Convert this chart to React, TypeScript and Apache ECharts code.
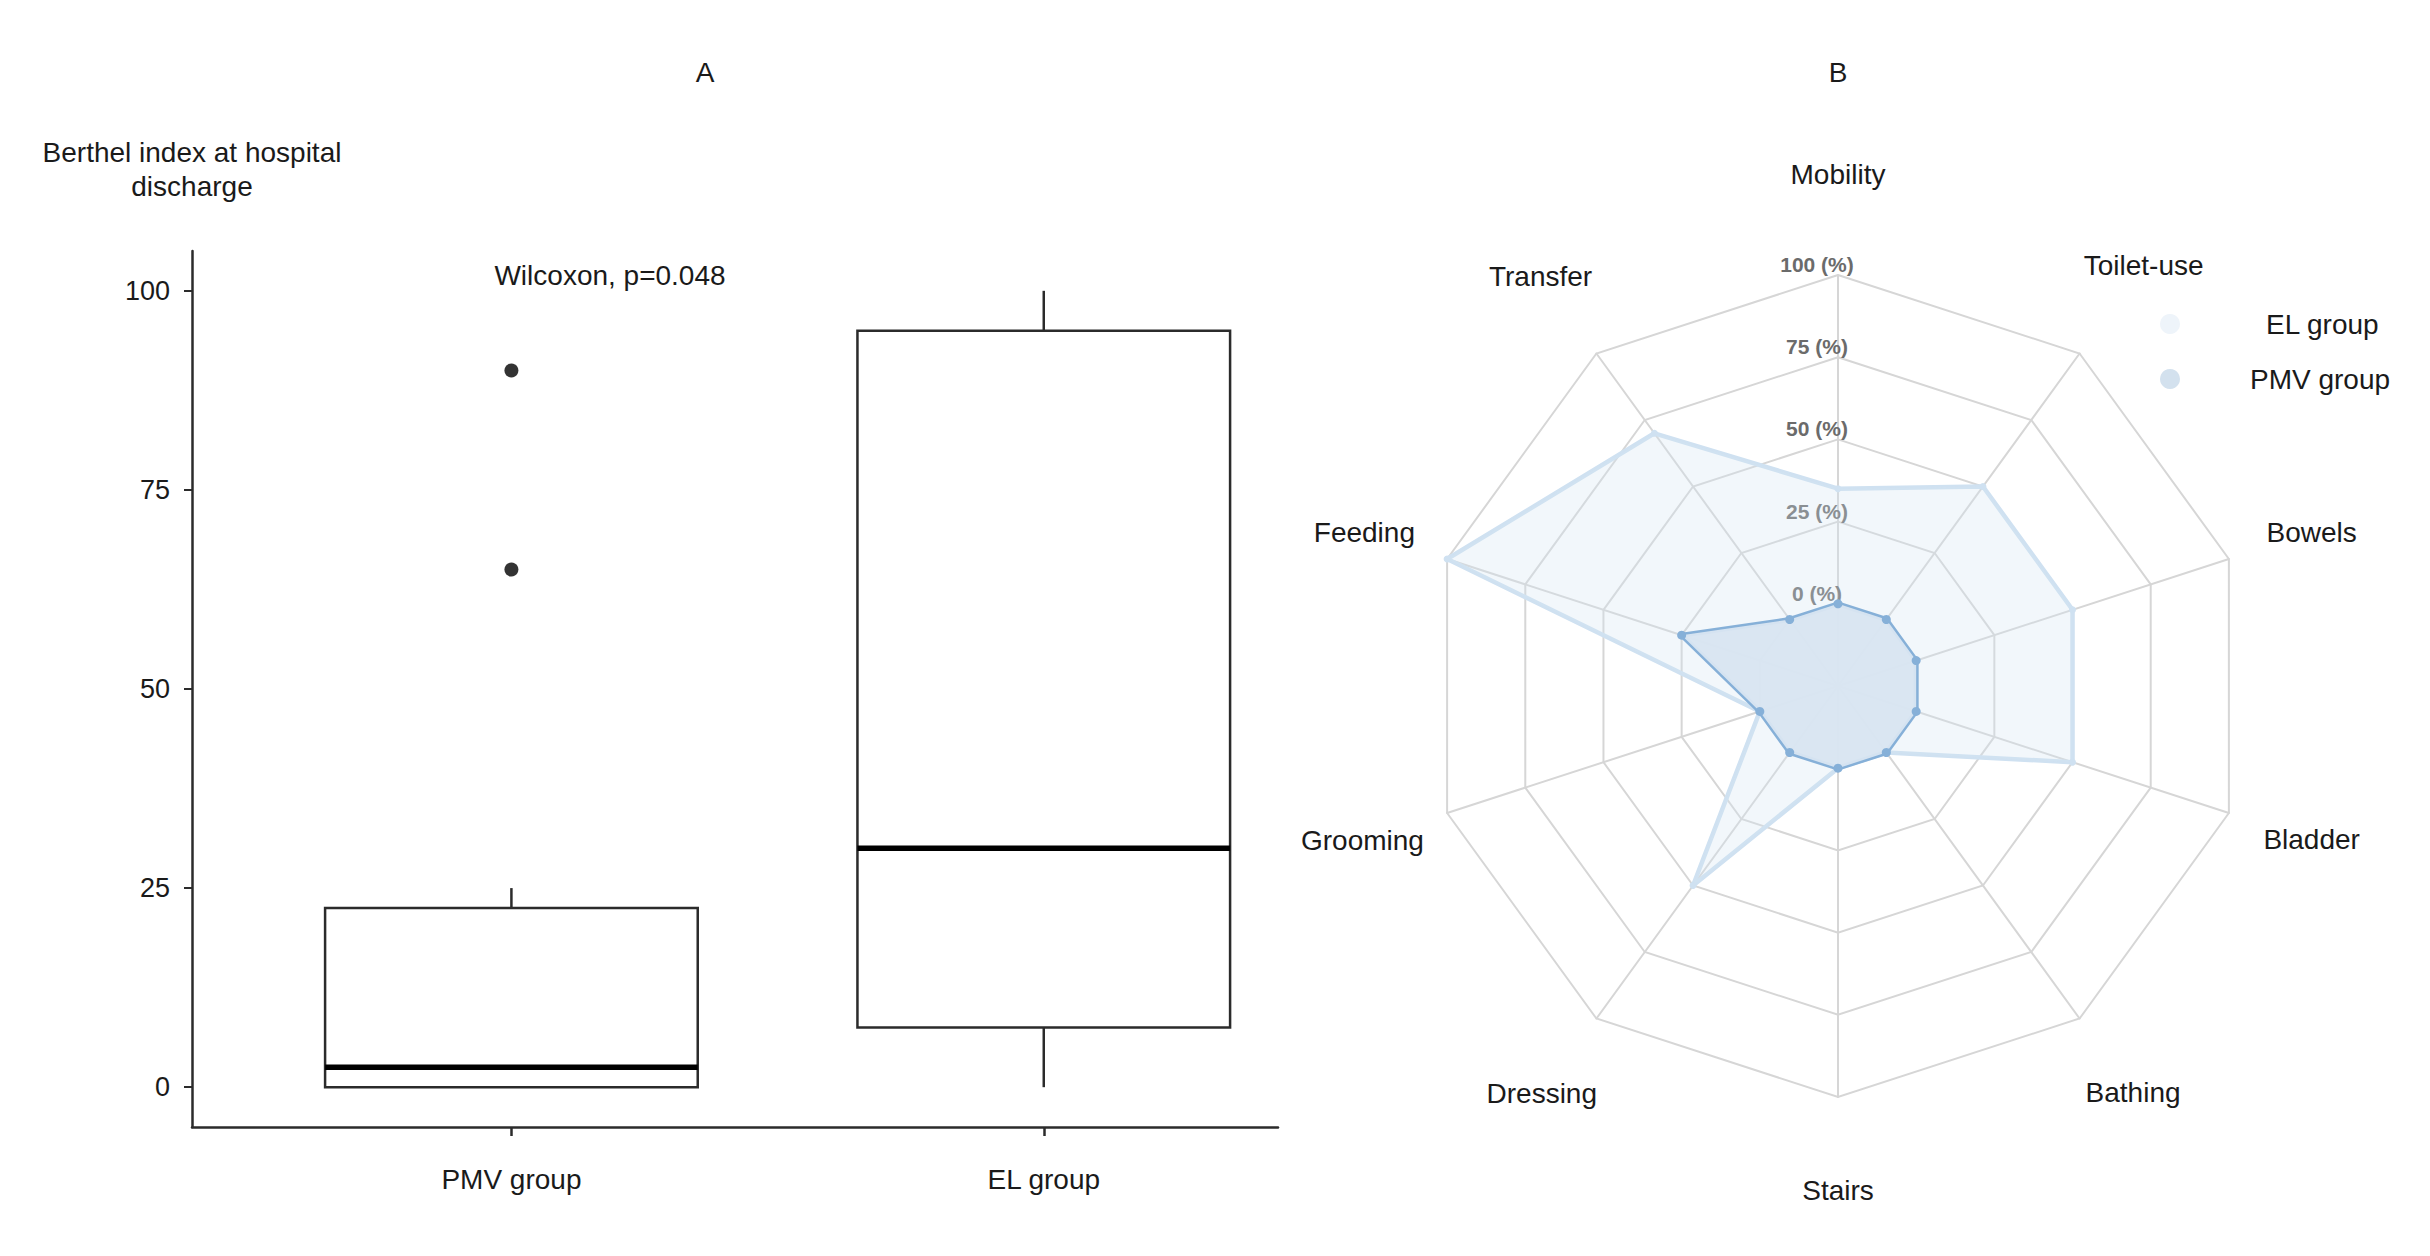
import React, { useEffect, useRef } from 'react';
import * as echarts from 'echarts';

// ---- Panel A: box plot data ----
const groups = ['PMV group', 'EL group'];
const groupPos = [1, 2];
const whiskerLow = [0, 0];
const quartile1 = [0, 7.5];
const medians = [2.5, 30];
const quartile3 = [22.5, 95];
const whiskerHigh = [25, 100];
const outlierGroup = [1, 1];
const outlierValues = [65, 90];
const yTicks = [0, 25, 50, 75, 100];

// ---- Panel B: radar data (counter-clockwise from top) ----
const radarAxes = ['Mobility', 'Transfer', 'Feeding', 'Grooming', 'Dressing', 'Stairs', 'Bathing', 'Bladder', 'Bowels', 'Toilet-use'];
const radarNameGaps = [101, 95, 87, 89, 93, 93, 91, 87, 87, 109];
const elValues = [35, 70, 100, 0, 50, 0, 0, 50, 50, 50];
const pmvValues = [0, 0, 25, 0, 0, 0, 0, 0, 0, 0];
const seriesNames = ['EL group', 'PMV group'];

const FONT = '"Liberation Sans", Arial, Helvetica, sans-serif';
const INK = '#1a1a1a';

export default function App() {
  const ref = useRef<HTMLDivElement>(null);

  useEffect(() => {
    document.body.style.margin = '0';
    if (!ref.current) return;
    const chart = echarts.init(ref.current, undefined, { renderer: 'svg' });

    const boxData = groups.map((_, i) => [
      groupPos[i], whiskerLow[i], quartile1[i], medians[i], quartile3[i], whiskerHigh[i],
    ]);
    const outlierData = outlierValues.map((v, i) => [outlierGroup[i], v]);
    const BOX_WIDTH = 0.7;

    const option: any = {
      animation: false,
      backgroundColor: '#ffffff',
      textStyle: { fontFamily: FONT },
      grid: { left: 192, right: 1152, top: 251, bottom: 129, containLabel: false },
      xAxis: {
        type: 'value',
        min: 0.4,
        max: 2.44,
        position: 'bottom',
        axisLine: { onZero: false, lineStyle: { color: '#2b2b2b', width: 2.5 } },
        axisTick: { show: true, length: 9, lineStyle: { color: '#2b2b2b', width: 2.5 }, customValues: groupPos },
        axisLabel: {
          customValues: groupPos,
          formatter: (v: number) => groups[groupPos.indexOf(Math.round(v))] ?? '',
          fontSize: 28, color: INK, margin: 38, fontFamily: FONT,
        },
        splitLine: { show: false },
      },
      yAxis: {
        type: 'value',
        min: -5,
        max: 105,
        name: 'Berthel index at hospital\ndischarge',
        nameLocation: 'end',
        nameGap: 48,
        nameTextStyle: { fontSize: 28, lineHeight: 34, align: 'center', verticalAlign: 'bottom', color: INK, fontFamily: FONT },
        axisLine: { show: true, lineStyle: { color: '#2b2b2b', width: 2.5 } },
        axisTick: { show: true, length: 8, lineStyle: { color: '#2b2b2b', width: 2 }, customValues: yTicks },
        axisLabel: { customValues: yTicks, fontSize: 27, color: INK, margin: 22, fontFamily: FONT },
        splitLine: { show: false },
      },
      radar: {
        center: [1838, 686],
        radius: 411,
        startAngle: 90,
        shape: 'polygon',
        splitNumber: 5,
        indicator: radarAxes.map((name, i) => ({
          name,
          min: -25,
          max: 100,
          nameGap: radarNameGaps[i],
          axisLabel: i === 0
            ? {
                show: true,
                margin: 0,
                formatter: (v: number) => (v < 0 ? '' : `${v} (%)`),
                color: '#6b6b6b',
                fontSize: 21,
                fontWeight: 'bold',
                align: 'center',
                verticalAlign: 'bottom',
                padding: [0, 42, 0, 0],
                fontFamily: FONT,
              }
            : { show: false },
        })),
        axisName: { color: INK, fontSize: 28, align: 'center', verticalAlign: 'middle', fontFamily: FONT },
        axisNameGap: 89,
        splitLine: { lineStyle: { color: '#d6d6d6', width: 2 } },
        splitArea: { show: false },
        axisLine: { lineStyle: { color: '#d6d6d6', width: 2 } },
        axisLabel: { show: false },
        axisTick: { show: false },
      },
      legend: {
        orient: 'vertical',
        left: 2155,
        top: 304,
        itemWidth: 20,
        itemHeight: 20,
        itemGap: 25,
        icon: 'circle',
        textStyle: { fontSize: 28, lineHeight: 30, color: INK, fontFamily: FONT },
        data: [
          { name: seriesNames[0], itemStyle: { color: '#eef4fa' }, textStyle: { padding: [0, 0, 0, 81] } },
          { name: seriesNames[1], itemStyle: { color: '#d3e1ee' }, textStyle: { padding: [0, 0, 0, 65] } },
        ],
      },
      graphic: [
        { type: 'text', x: 705, y: 72, style: { text: 'A', font: `28px ${FONT}`, fill: INK, align: 'center', verticalAlign: 'middle' } },
        { type: 'text', x: 1838, y: 72, style: { text: 'B', font: `28px ${FONT}`, fill: INK, align: 'center', verticalAlign: 'middle' } },
        { type: 'text', x: 610, y: 275, style: { text: 'Wilcoxon, p=0.048', font: `28px ${FONT}`, fill: INK, align: 'center', verticalAlign: 'middle' } },
      ],
      series: [
        {
          type: 'custom',
          name: 'box',
          data: boxData,
          encode: { x: 0, y: [1, 2, 3, 4, 5] },
          renderItem: (_params: any, api: any) => {
            const x = api.value(0);
            const lo = api.coord([x, api.value(1)]);
            const q1 = api.coord([x, api.value(2)]);
            const med = api.coord([x, api.value(3)]);
            const q3 = api.coord([x, api.value(4)]);
            const hi = api.coord([x, api.value(5)]);
            const half = api.size([BOX_WIDTH, 0])[0] / 2;
            const stroke = '#2b2b2b';
            return {
              type: 'group',
              children: [
                { type: 'line', shape: { x1: hi[0], y1: hi[1], x2: q3[0], y2: q3[1] }, style: { stroke, lineWidth: 2.5 } },
                { type: 'line', shape: { x1: q1[0], y1: q1[1], x2: lo[0], y2: lo[1] }, style: { stroke, lineWidth: 2.5 } },
                {
                  type: 'rect',
                  shape: { x: q3[0] - half, y: q3[1], width: half * 2, height: q1[1] - q3[1] },
                  style: { fill: '#ffffff', stroke, lineWidth: 2.5 },
                },
                { type: 'line', shape: { x1: med[0] - half, y1: med[1], x2: med[0] + half, y2: med[1] }, style: { stroke: '#000', lineWidth: 5.5 } },
              ],
            };
          },
          z: 2,
        },
        {
          type: 'scatter',
          name: 'outliers',
          data: outlierData,
          symbol: 'circle',
          symbolSize: 14,
          itemStyle: { color: '#000' },
          z: 3,
        },
        {
          type: 'radar',
          name: 'radar',
          symbol: 'circle',
          data: [
            {
              name: seriesNames[0],
              value: elValues,
              symbolSize: 7,
              lineStyle: { color: '#cfe1f1', width: 4.5 },
              itemStyle: { color: '#cfe1f1' },
              areaStyle: { color: 'rgba(212,228,243,0.3)', opacity: 1 },
            },
            {
              name: seriesNames[1],
              value: pmvValues,
              symbolSize: 9,
              lineStyle: { color: '#86b0d8', width: 5 },
              itemStyle: { color: '#86b0d8' },
              areaStyle: { color: '#d9e5f1', opacity: 0.96 },
            },
          ],
        },
      ],
    };

    chart.setOption(option);
    return () => chart.dispose();
  }, []);

  return <div ref={ref} style={{ width: 2430, height: 1256 }} />;
}
